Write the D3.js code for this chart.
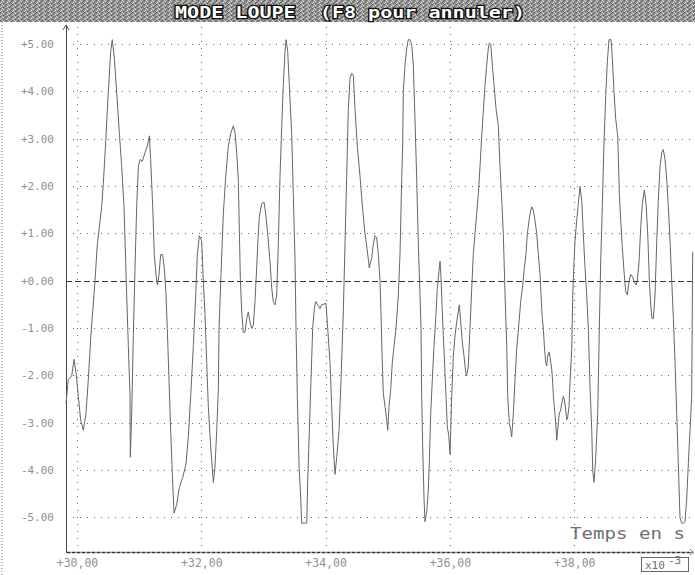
<!DOCTYPE html>
<html>
<head>
<meta charset="utf-8">
<script src="https://cdn.jsdelivr.net/npm/d3@7"></script>
<style>
    html, body { margin: 0; padding: 0; background: #fff; }
    svg { display: block; }
</style>
</head>
<body>
<svg id="scope" width="695" height="575"></svg>
<script>
// time in ms (x10^-3 s)
const timeValues = [
    29.823, 29.860, 29.915, 29.952, 29.984, 30.021, 30.059, 30.102, 30.145, 30.182,
    30.220, 30.252, 30.290, 30.327, 30.359, 30.397, 30.424, 30.461, 30.504, 30.542,
    30.568, 30.601, 30.638, 30.681, 30.719, 30.756, 30.783, 30.799, 30.826, 30.853,
    30.858, 30.880, 30.906, 30.933, 30.960, 30.987, 31.014, 31.051, 31.094, 31.131,
    31.164, 31.185, 31.218, 31.244, 31.271, 31.293, 31.319, 31.346, 31.378, 31.405,
    31.432, 31.453, 31.480, 31.507, 31.534, 31.561, 31.604, 31.646, 31.700, 31.754,
    31.791, 31.829, 31.872, 31.910, 31.936, 31.968, 32.006, 32.033, 32.060, 32.087,
    32.113, 32.151, 32.194, 32.220, 32.248, 32.274, 32.285, 32.317, 32.354, 32.393,
    32.434, 32.478, 32.515, 32.542, 32.570, 32.595, 32.611, 32.628, 32.650, 32.676,
    32.703, 32.731, 32.756, 32.784, 32.811, 32.837, 32.864, 32.891, 32.908, 32.933,
    32.972, 33.009, 33.036, 33.068, 33.105, 33.133, 33.158, 33.186, 33.213, 33.239,
    33.266, 33.294, 33.319, 33.347, 33.363, 33.390, 33.416, 33.455, 33.480, 33.508,
    33.524, 33.545, 33.572, 33.599, 33.616, 33.657, 33.696, 33.712, 33.738, 33.765,
    33.792, 33.818, 33.841, 33.873, 33.910, 33.937, 34.006, 34.034, 34.071, 34.098,
    34.124, 34.151, 34.179, 34.216, 34.248, 34.285, 34.312, 34.339, 34.365, 34.393,
    34.420, 34.446, 34.473, 34.510, 34.554, 34.597, 34.634, 34.671, 34.703, 34.742,
    34.768, 34.795, 34.822, 34.848, 34.875, 34.891, 34.907, 34.928, 34.956, 34.983,
    34.999, 35.020, 35.047, 35.073, 35.101, 35.133, 35.170, 35.197, 35.225, 35.241,
    35.250, 35.278, 35.305, 35.331, 35.358, 35.385, 35.411, 35.438, 35.466, 35.492,
    35.519, 35.535, 35.546, 35.562, 35.583, 35.599, 35.627, 35.652, 35.669, 35.691,
    35.717, 35.744, 35.772, 35.797, 35.825, 35.841, 35.857, 35.873, 35.894, 35.921,
    35.937, 35.958, 35.981, 36.002, 36.029, 36.055, 36.082, 36.109, 36.135, 36.151,
    36.174, 36.200, 36.227, 36.254, 36.270, 36.296, 36.323, 36.351, 36.376, 36.404,
    36.431, 36.457, 36.484, 36.512, 36.537, 36.565, 36.592, 36.618, 36.634, 36.657,
    36.682, 36.710, 36.742, 36.779, 36.806, 36.834, 36.859, 36.887, 36.914, 36.930,
    36.956, 36.978, 36.994, 37.020, 37.048, 37.075, 37.112, 37.139, 37.172, 37.197,
    37.224, 37.245, 37.273, 37.289, 37.316, 37.342, 37.369, 37.397, 37.422, 37.450,
    37.466, 37.487, 37.503, 37.519, 37.541, 37.558, 37.574, 37.595, 37.611, 37.638,
    37.654, 37.664, 37.680, 37.702, 37.719, 37.744, 37.760, 37.783, 37.799, 37.825,
    37.841, 37.863, 37.879, 37.896, 37.916, 37.932, 37.960, 37.976, 37.997, 38.013,
    38.040, 38.066, 38.093, 38.121, 38.146, 38.174, 38.201, 38.227, 38.254, 38.282,
    38.298, 38.319, 38.346, 38.378, 38.404, 38.426, 38.452, 38.479, 38.507, 38.533,
    38.560, 38.592, 38.613, 38.640, 38.668, 38.700, 38.726, 38.748, 38.774, 38.801,
    38.829, 38.854, 38.882, 38.909, 38.935, 38.962, 38.994, 39.015, 39.043, 39.070,
    39.096, 39.128, 39.155, 39.183, 39.209, 39.231, 39.252, 39.273, 39.300, 39.328,
    39.353, 39.381, 39.408, 39.434, 39.461, 39.489, 39.514, 39.542, 39.569, 39.595,
    39.622, 39.649, 39.675, 39.702, 39.729, 39.756, 39.783, 39.810, 39.836, 39.863,
    39.890, 39.906
];

// signal amplitude
const signalValues = [
    -2.59, -2.09, -2.01, -1.66, -1.94, -2.44, -2.94, -3.16, -2.80, -2.09,
    -1.23, -0.66, 0.00, 0.77, 1.13, 1.56, 2.06, 2.91, 3.99, 4.84,
    5.09, 4.70, 3.99, 3.13, 2.41, 1.56, 0.41, -0.30, -1.37, -2.44,
    -3.73, -2.80, -1.16, 0.26, 1.56, 2.41, 2.56, 2.52, 2.70, 2.84,
    3.06, 2.56, 1.56, 0.55, 0.12, -0.09, 0.12, 0.55, 0.55, 0.26,
    -0.30, -1.01, -2.09, -3.16, -4.09, -4.91, -4.73, -4.37, -4.16, -3.87,
    -3.30, -2.44, -1.37, -0.30, 0.55, 0.95, 0.84, -0.02, -0.73, -1.73,
    -2.66, -3.51, -4.26, -3.94, -3.16, -2.30, -1.01, 0.13, 1.41, 2.20,
    2.84, 3.13, 3.27, 3.13, 2.70, 2.13, 1.13, 0.05, -0.66, -1.09,
    -1.09, -0.80, -0.66, -0.87, -1.01, -0.94, -0.44, 0.27, 0.77, 1.34,
    1.63, 1.66, 1.41, 0.99, 0.41, -0.16, -0.44, -0.51, -0.30, 0.77,
    2.20, 3.27, 4.13, 4.84, 5.09, 4.84, 4.13, 3.06, 1.84, 0.41,
    -1.01, -2.44, -3.87, -4.59, -5.12, -5.12, -5.12, -4.23, -3.16, -2.09,
    -1.01, -0.59, -0.44, -0.51, -0.59, -0.51, -0.48, -1.01, -1.73, -2.66,
    -3.51, -4.09, -3.73, -3.16, -2.09, -0.66, 0.77, 2.20, 3.63, 4.27,
    4.38, 4.34, 3.63, 2.84, 2.20, 1.49, 0.99, 0.63, 0.27, 0.49,
    0.77, 0.95, 0.91, 0.56, -0.01, -0.66, -1.51, -2.37, -2.66, -2.94,
    -3.16, -2.66, -2.30, -1.73, -1.37, -1.01, -0.30, 0.56, 2.20, 2.91,
    3.99, 4.56, 4.91, 5.09, 5.09, 4.99, 4.56, 3.41, 2.13, 0.77,
    -0.30, -1.01, -2.44, -3.51, -4.59, -5.09, -4.87, -4.44, -3.80, -2.80,
    -2.09, -1.37, -0.80, -0.16, 0.20, 0.41, 0.06, -0.51, -1.16, -1.94,
    -2.44, -3.09, -3.26, -3.66, -2.44, -1.59, -1.16, -0.87, -0.66, -0.51,
    -0.87, -1.30, -1.59, -1.94, -2.01, -1.80, -1.01, -0.16, 0.56, 0.99,
    1.41, 1.84, 2.41, 3.06, 3.56, 4.13, 4.56, 4.91, 5.02, 4.99,
    4.56, 4.13, 3.63, 3.27, 2.41, 1.70, 0.99, -0.30, -1.37, -2.44,
    -3.01, -3.16, -3.30, -2.80, -2.09, -1.44, -0.87, -0.44, -0.09, 0.27,
    0.56, 0.99, 1.27, 1.41, 1.56, 1.49, 1.27, 0.99, 0.56, 0.13,
    -0.30, -0.80, -1.01, -1.37, -1.73, -1.80, -1.59, -1.51, -1.62, -1.87,
    -2.16, -2.44, -2.66, -3.01, -3.37, -3.01, -2.80, -2.73, -2.59, -2.44,
    -2.51, -2.73, -2.94, -2.87, -2.66, -2.16, -1.44, -0.30, 0.41, 0.84,
    1.27, 1.63, 1.99, 1.70, 0.99, 0.27, -0.30, -1.01, -2.23, -3.16,
    -4.01, -4.26, -3.73, -2.80, -1.01, 0.41, 1.56, 2.91, 3.91, 4.63,
    5.09, 5.09, 4.70, 3.99, 3.41, 3.06, 1.84, 1.27, 0.70, 0.20,
    -0.23, -0.30, -0.01, 0.13, 0.09, -0.01, -0.09, -0.01, 0.41, 1.13,
    1.63, 1.91, 1.63, 0.99, -0.01, -0.51, -0.80, -0.80, -0.30, 0.84,
    1.70, 2.41, 2.70, 2.77, 2.56, 2.13, 1.56, 0.84, -0.01, -0.80,
    -1.73, -2.80, -3.87, -5.01, -5.12, -5.12, -5.09, -4.59, -3.87, -3.16,
    -2.44, 0.60
];

// tick values and labels
const yTicks = [5, 4, 3, 2, 1, 0, -1, -2, -3, -4, -5];
const yTickLabels = ["+5.00", "+4.00", "+3.00", "+2.00", "+1.00", "+0.00",
    "-1.00", "-2.00", "-3.00", "-4.00", "-5.00"];
const xTicks = [30, 32, 34, 36, 38];
const xTickLabels = ["+30,00", "+32,00", "+34,00", "+36,00", "+38,00"];

const titleText = "MODE LOUPE  (F8 pour annuler)";
const axisTitle = "Temps en s";

/**
 * Basic sizes
 */
const plotLeft = 66, plotRight = 693, plotTop = 25, plotBottom = 552;
const mono = "'DejaVu Sans Mono', 'Liberation Mono', monospace";

const svg = d3.select("#scope");

const xScale = d3.scaleLinear().domain([29.823, 39.911]).range([plotLeft, plotRight]);
const yScale = d3.scaleLinear().domain([-5.73, 5.40]).range([plotBottom, plotTop]);

/**
 * Dithered title bar
 */
const pat = svg.append("defs").append("pattern")
    .attr("id", "dither")
    .attr("width", 6).attr("height", 4)
    .attr("patternUnits", "userSpaceOnUse");
pat.append("rect").attr("width", 6).attr("height", 4).attr("fill", "#959595");
[[0, 0, "#555"], [2, 0, "#cfcfcf"], [3, 1, "#e0e0e0"], [5, 1, "#666"],
    [1, 2, "#dadada"], [4, 2, "#707070"], [0, 3, "#c4c4c4"], [3, 3, "#4c4c4c"]]
    .forEach(p => pat.append("rect")
        .attr("x", p[0]).attr("y", p[1])
        .attr("width", 1).attr("height", 1)
        .attr("fill", p[2]));

svg.append("rect")
    .attr("x", 0).attr("y", 0)
    .attr("width", 695).attr("height", 22)
    .attr("fill", "url(#dither)");

svg.append("text")
    .attr("x", 175).attr("y", 18)
    .attr("font-family", mono)
    .attr("font-weight", "bold")
    .attr("font-size", 16)
    .attr("textLength", 350)
    .attr("lengthAdjust", "spacingAndGlyphs")
    .style("white-space", "pre")
    .attr("fill", "#fff")
    .attr("stroke", "#111")
    .attr("stroke-width", 2.5)
    .attr("paint-order", "stroke")
    .text(titleText);

// left dotted border
svg.append("line")
    .attr("x1", 2).attr("x2", 2)
    .attr("y1", 22).attr("y2", 575)
    .attr("stroke", "#777")
    .attr("stroke-dasharray", "1,2");

/**
 * Grid
 */
const grid = svg.append("g").attr("shape-rendering", "crispEdges");

grid.selectAll(".hgrid")
    .data(yTicks.filter(d => d !== 0))
    .join("line")
    .attr("class", "hgrid")
    .attr("x1", plotLeft).attr("x2", plotRight)
    .attr("y1", d => Math.round(yScale(d)) + 0.5)
    .attr("y2", d => Math.round(yScale(d)) + 0.5)
    .attr("stroke", "#666")
    .attr("stroke-dasharray", "1,6");

grid.selectAll(".vgrid")
    .data(xTicks)
    .join("line")
    .attr("class", "vgrid")
    .attr("x1", d => Math.round(xScale(d)) + 0.5)
    .attr("x2", d => Math.round(xScale(d)) + 0.5)
    .attr("y1", plotTop + 2).attr("y2", plotBottom)
    .attr("stroke", "#666")
    .attr("stroke-dasharray", "1,6");

// zero line
grid.append("line")
    .attr("x1", plotLeft).attr("x2", plotRight)
    .attr("y1", Math.round(yScale(0)) + 0.5)
    .attr("y2", Math.round(yScale(0)) + 0.5)
    .attr("stroke", "#333")
    .attr("stroke-dasharray", "6,3");

/**
 * Axes
 */
const yAxis = svg.append("g")
    .attr("transform", `translate(${plotLeft}, 0)`)
    .call(d3.axisLeft(yScale)
        .tickValues(yTicks)
        .tickSize(0)
        .tickSizeOuter(0)
        .tickPadding(12)
        .tickFormat((d, i) => yTickLabels[i]));
yAxis.select(".domain").attr("stroke", "#444");
yAxis.selectAll("text")
    .attr("font-family", mono)
    .attr("font-size", 11)
    .attr("fill", "#909090");

const xAxis = svg.append("g")
    .attr("transform", `translate(0, ${plotBottom})`)
    .call(d3.axisBottom(xScale)
        .tickValues(xTicks)
        .tickSize(0)
        .tickSizeOuter(0)
        .tickPadding(7)
        .tickFormat((d, i) => xTickLabels[i]));
xAxis.select(".domain")
    .attr("stroke", "#333")
    .attr("stroke-width", 1.5)
    .attr("stroke-dasharray", "4,1");
xAxis.selectAll("text")
    .attr("font-family", mono)
    .attr("font-size", 11.5)
    .attr("fill", "#909090");

// arrow heads
svg.append("path")
    .attr("d", `M${plotLeft - 3},${plotTop + 5}L${plotLeft},${plotTop}L${plotLeft + 3},${plotTop + 5}`)
    .attr("fill", "none")
    .attr("stroke", "#555");
svg.append("path")
    .attr("d", `M${plotRight - 3},${plotBottom - 3}L${plotRight},${plotBottom}L${plotRight - 3},${plotBottom + 3}`)
    .attr("fill", "none")
    .attr("stroke", "#777");

/**
 * Signal
 */
const points = timeValues.map((t, i) => ({t: t, v: signalValues[i]}));

svg.append("path")
    .datum(points)
    .attr("fill", "none")
    .attr("stroke", "#666")
    .attr("stroke-width", 1)
    .attr("d", d3.line()
        .x(d => xScale(d.t))
        .y(d => yScale(d.v)));

/**
 * Labels
 */
svg.append("text")
    .attr("x", 570).attr("y", 539)
    .attr("font-family", mono)
    .attr("font-size", 15)
    .attr("textLength", 115)
    .attr("lengthAdjust", "spacingAndGlyphs")
    .attr("fill", "#707070")
    .text(axisTitle);

svg.append("rect")
    .attr("x", 641.5).attr("y", 557.5)
    .attr("width", 47).attr("height", 14)
    .attr("fill", "none")
    .attr("stroke", "#666");

const unit = svg.append("text")
    .attr("x", 645).attr("y", 569)
    .attr("font-family", mono)
    .attr("font-size", 11)
    .attr("fill", "#707070");
unit.append("tspan").text("x10");
unit.append("tspan").attr("dx", 3).attr("dy", -5).text("-3");
</script>
</body>
</html>
